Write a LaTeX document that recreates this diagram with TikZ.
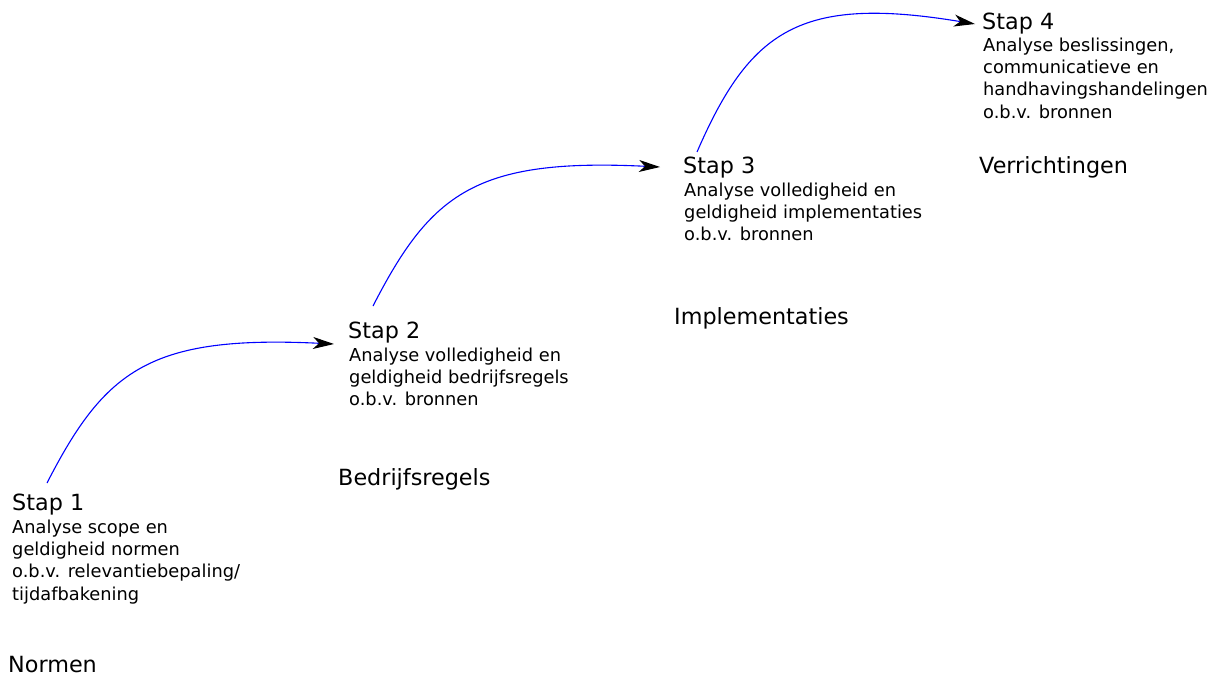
\documentclass[tikz,border=0pt]{standalone}
\usepackage{fontspec}
\setmainfont{DejaVu Sans}
\usetikzlibrary{arrows.meta}
\begin{document}
\begin{tikzpicture}[x=1pt,y=-1pt,
  title/.style={anchor=base west,inner sep=0pt,font=\fontsize{22.3}{26}\selectfont},
  body/.style={anchor=base west,inner sep=0pt,font=\fontsize{17.8}{22.4}\selectfont},
  layer/.style={anchor=base west,inner sep=0pt,font=\fontsize{22.3}{26}\selectfont},
  flow/.style={draw=blue,line width=1.1pt,-{Stealth[black,length=21pt,width=12pt,inset=6pt]}}]
\useasboundingbox (0,0) rectangle (1220,675);

% step 1
\node[title] (s1) at (12,510) {Stap 1};
\node[body] (b1) at (12,533) {\vtop{\hbox{Analyse scope en}\hbox{geldigheid normen}\hbox{o.b.v. relevantiebepaling/}\hbox{tijdafbakening}}};
\node[layer] (l1) at (8,672) {Normen};

% step 2
\node[title] (s2) at (348,338) {Stap 2};
\node[body] (b2) at (349,361) {\vtop{\hbox{Analyse volledigheid en}\hbox{geldigheid bedrijfsregels}\hbox{o.b.v. bronnen}}};
\node[layer] (l2) at (338,485) {Bedrijfsregels};

% step 3
\node[title] (s3) at (683,173) {Stap 3};
\node[body] (b3) at (684,196) {\vtop{\hbox{Analyse volledigheid en}\hbox{geldigheid implementaties}\hbox{o.b.v. bronnen}}};
\node[layer] (l3) at (674,324) {Implementaties};

% step 4
\node[title] (s4) at (982,29) {Stap 4};
\node[body] (b4) at (983,51) {\vtop{\hbox{Analyse beslissingen,}\hbox{communicatieve en}\hbox{handhavingshandelingen}\hbox{o.b.v. bronnen}}};
\node[layer] (l4) at (979,173) {Verrichtingen};

% curved transitions between the steps
\draw[flow] ([shift={(35,-27)}]s1.base west) .. controls +(58,-113) and +(-184,-9) .. ([shift={(-14,6)}]s2.base west);
\draw[flow] ([shift={(25,-32)}]s2.base west) .. controls +(58,-113) and +(-184,-9) .. ([shift={(-23,-6)}]s3.base west);
\draw[flow] ([shift={(14,-21)}]s3.base west) .. controls +(53,-122) and +(-175,-29) .. ([shift={(-7,-5)}]s4.base west);
\end{tikzpicture}
\end{document}
